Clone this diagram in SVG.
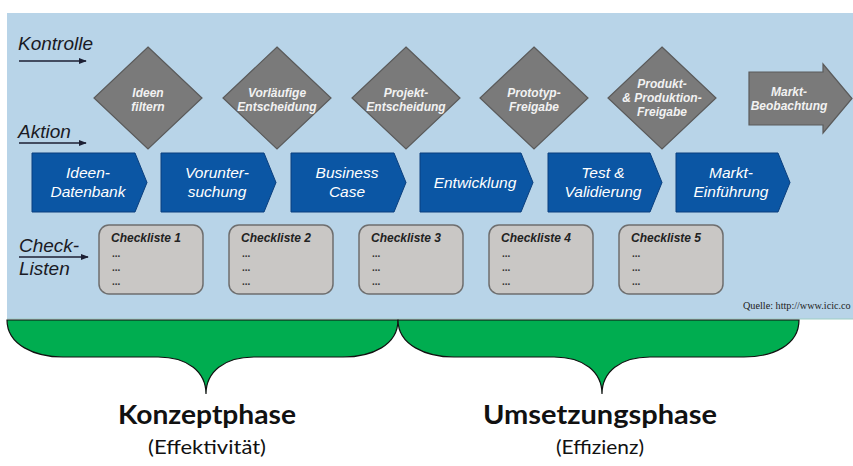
<svg xmlns="http://www.w3.org/2000/svg" width="853" height="466" viewBox="0 0 853 466">
  <defs>
    <marker id="ah" viewBox="0 0 10 10" refX="9" refY="5" markerWidth="5" markerHeight="5" orient="auto" markerUnits="strokeWidth">
      <path d="M0,1 L10,5 L0,9 Z" fill="#1c1f33"/>
    </marker>
    <style>
      .lbl { font-family: "Liberation Sans", Arial, sans-serif; font-style: italic; font-size: 19px; fill: #1a1a24; }
      .flow { stroke: #1c1f33; stroke-width: 1.6; fill: none; }
      .dia { fill: #7a7a7a; stroke: #5a5a5a; stroke-width: 1.2; }
      .dtx { font-family: "Liberation Sans", Arial, sans-serif; font-style: italic; font-weight: bold; font-size: 12px; fill: #f2f2f2; text-anchor: middle; }
      .chev { fill: #0b56a4; stroke: #0a3f7e; stroke-width: 1; }
      .ctx { font-family: "Liberation Sans", Arial, sans-serif; font-style: italic; font-size: 15.5px; fill: #ffffff; text-anchor: middle; }
      .box { fill: #c9c7c5; stroke: #6e6e6e; stroke-width: 1.5; }
      .btl { font-family: "Liberation Sans", Arial, sans-serif; font-style: italic; font-weight: bold; font-size: 12px; fill: #222; }
      .dots { font-family: "Liberation Sans", Arial, sans-serif; font-weight: bold; font-size: 10px; fill: #333; }
      .brace { fill: #00ad50; stroke: #111; stroke-width: 1.2; }
      .ph { font-family: Lato, "Open Sans", sans-serif; font-weight: bold; font-size: 26px; fill: #111; text-anchor: middle; }
      .sub { font-family: Lato, "Open Sans", sans-serif; font-size: 19px; fill: #111; text-anchor: middle; }
    </style>
  </defs>

  <rect width="853" height="466" fill="#ffffff"/>

  <!-- light blue process panel -->
  <rect x="7" y="13" width="846" height="306" fill="#b8d4e8"/>
  <line x1="7" y1="319" x2="853" y2="319" stroke="#9fcfc4" stroke-width="1"/>

  <!-- row labels -->
  <text class="lbl" x="18" y="50">Kontrolle</text>
  <text class="lbl" x="18" y="138">Aktion</text>
  <text class="lbl" x="19" y="252">Check-</text>
  <text class="lbl" x="19" y="275">Listen</text>

  <g id="connectors">
    <line class="flow" x1="19" y1="61" x2="86" y2="61" marker-end="url(#ah)"/>
    <line class="flow" x1="19" y1="143" x2="86" y2="143" marker-end="url(#ah)"/>
    <line class="flow" x1="19" y1="257" x2="88" y2="257" marker-end="url(#ah)"/>
  </g>

  <!-- control gates -->
  <g id="gate-ideen-filtern">
    <polygon class="dia" points="148,47 202,98 148,149 94,98"/>
    <text class="dtx" x="148" y="97">Ideen</text>
    <text class="dtx" x="148" y="111">filtern</text>
  </g>
  <g id="gate-vorlaeufige-entscheidung">
    <polygon class="dia" points="277,47 331,98 277,149 223,98"/>
    <text class="dtx" x="277" y="97">Vorläufige</text>
    <text class="dtx" x="277" y="111">Entscheidung</text>
  </g>
  <g id="gate-projekt-entscheidung">
    <polygon class="dia" points="406,47 460,98 406,149 352,98"/>
    <text class="dtx" x="406" y="97">Projekt-</text>
    <text class="dtx" x="406" y="111">Entscheidung</text>
  </g>
  <g id="gate-prototyp-freigabe">
    <polygon class="dia" points="534,47 588,98 534,149 480,98"/>
    <text class="dtx" x="534" y="97">Prototyp-</text>
    <text class="dtx" x="534" y="111">Freigabe</text>
  </g>
  <g id="gate-produkt-freigabe">
    <polygon class="dia" points="662,47 716,98 662,149 608,98"/>
    <text class="dtx" x="662" y="88">Produkt-</text>
    <text class="dtx" x="662" y="102">&amp; Produktion-</text>
    <text class="dtx" x="662" y="116">Freigabe</text>
  </g>
  <g id="markt-beobachtung">
    <polygon class="dia" points="749,72 823,72 823,64 852,98.5 823,133 823,125 749,125"/>
    <text class="dtx" x="789" y="96">Markt-</text>
    <text class="dtx" x="789" y="110">Beobachtung</text>
  </g>

  <!-- action steps -->
  <g id="step-ideen-datenbank">
    <polygon class="chev" points="32,153 135,153 147,182.5 135,212 32,212"/>
    <text class="ctx" x="88" y="178">Ideen-</text>
    <text class="ctx" x="88" y="197">Datenbank</text>
  </g>
  <g id="step-voruntersuchung">
    <polygon class="chev" points="161,153 264,153 276,182.5 264,212 161,212"/>
    <text class="ctx" x="217" y="178">Vorunter-</text>
    <text class="ctx" x="217" y="197">suchung</text>
  </g>
  <g id="step-business-case">
    <polygon class="chev" points="291,153 394,153 406,182.5 394,212 291,212"/>
    <text class="ctx" x="347" y="178">Business</text>
    <text class="ctx" x="347" y="197">Case</text>
  </g>
  <g id="step-entwicklung">
    <polygon class="chev" points="420,153 521,153 533,182.5 521,212 420,212"/>
    <text class="ctx" x="475" y="188">Entwicklung</text>
  </g>
  <g id="step-test-validierung">
    <polygon class="chev" points="548,153 650,153 662,182.5 650,212 548,212"/>
    <text class="ctx" x="603" y="178">Test &amp;</text>
    <text class="ctx" x="603" y="197">Validierung</text>
  </g>
  <g id="step-markt-einfuehrung">
    <polygon class="chev" points="676,153 778,153 790,182.5 778,212 676,212"/>
    <text class="ctx" x="731" y="178">Markt-</text>
    <text class="ctx" x="731" y="197">Einführung</text>
  </g>

  <!-- checklists -->
  <g id="checkliste-1">
    <rect class="box" x="99" y="225" width="104" height="69" rx="10"/>
    <text class="btl" x="111" y="242">Checkliste 1</text>
    <text class="dots" x="112" y="257">...</text>
    <text class="dots" x="112" y="271">...</text>
    <text class="dots" x="112" y="285">...</text>
  </g>
  <g id="checkliste-2">
    <rect class="box" x="229" y="225" width="104" height="69" rx="10"/>
    <text class="btl" x="241" y="242">Checkliste 2</text>
    <text class="dots" x="242" y="257">...</text>
    <text class="dots" x="242" y="271">...</text>
    <text class="dots" x="242" y="285">...</text>
  </g>
  <g id="checkliste-3">
    <rect class="box" x="359" y="225" width="104" height="69" rx="10"/>
    <text class="btl" x="371" y="242">Checkliste 3</text>
    <text class="dots" x="372" y="257">...</text>
    <text class="dots" x="372" y="271">...</text>
    <text class="dots" x="372" y="285">...</text>
  </g>
  <g id="checkliste-4">
    <rect class="box" x="489" y="225" width="104" height="69" rx="10"/>
    <text class="btl" x="501" y="242">Checkliste 4</text>
    <text class="dots" x="502" y="257">...</text>
    <text class="dots" x="502" y="271">...</text>
    <text class="dots" x="502" y="285">...</text>
  </g>
  <g id="checkliste-5">
    <rect class="box" x="619" y="225" width="104" height="69" rx="10"/>
    <text class="btl" x="631" y="242">Checkliste 5</text>
    <text class="dots" x="632" y="257">...</text>
    <text class="dots" x="632" y="271">...</text>
    <text class="dots" x="632" y="285">...</text>
  </g>

  <text x="743" y="309" font-family="'Liberation Serif', 'Times New Roman', serif" font-size="10.2" fill="#222">Quelle: http://www.icic.co</text>

  <!-- phase braces -->
  <g id="konzeptphase">
    <path class="brace" d="M7,320 C7,345 35,357 63,357 L158,357 C188,357 206,372 206,394 C206,372 224,357 254,357 L343,357 C372,357 398,345 398,320 Z"/>
    <text class="ph" x="207" y="424" textLength="178" lengthAdjust="spacingAndGlyphs">Konzeptphase</text>
    <text class="sub" x="207" y="454" textLength="118" lengthAdjust="spacingAndGlyphs">(Effektivität)</text>
  </g>
  <g id="umsetzungsphase">
    <path class="brace" d="M398,320 C398,345 426,357 454,357 L554,357 C584,357 602,372 602,394 C602,372 620,357 650,357 L744,357 C773,357 799,345 799,320 Z"/>
    <text class="ph" x="600" y="424" textLength="234" lengthAdjust="spacingAndGlyphs">Umsetzungsphase</text>
    <text class="sub" x="600" y="454" textLength="88" lengthAdjust="spacingAndGlyphs">(Effizienz)</text>
  </g>
</svg>
